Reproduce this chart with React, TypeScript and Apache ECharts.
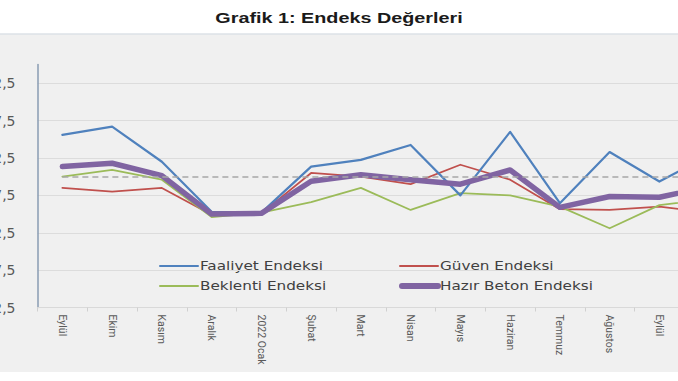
import React, { useEffect, useRef } from "react";
import * as echarts from "echarts";

const categories = ["Eylül", "Ekim", "Kasım", "Aralık", "2022 Ocak", "Şubat", "Mart", "Nisan", "Mayıs", "Haziran", "Temmuz", "Ağustos", "Eylül", "Ekim"];
const faaliyet = [105.6, 106.7, 102.0, 95.3, 95.2, 101.35, 102.25, 104.25, 97.5, 106.0, 96.45, 103.3, 99.35, 102.9];
const guven = [98.5, 98.0, 98.5, 94.9, 95.1, 100.5, 100.0, 99.0, 101.6, 99.6, 95.65, 95.55, 96.0, 95.2];
const beklenti = [100.0, 100.9, 99.6, 94.6, 95.2, 96.6, 98.5, 95.55, 97.8, 97.5, 96.0, 93.1, 96.2, 97.0];
const hazirBeton = [101.35, 101.8, 100.15, 95.0, 95.1, 99.4, 100.25, 99.6, 99.0, 100.9, 95.9, 97.35, 97.25, 98.7];
const seriesNames = ["Faaliyet Endeksi", "Güven Endeksi", "Beklenti Endeksi", "Hazır Beton Endeksi"];
const titleText = "Grafik 1: Endeks Değerleri";
const referenceValue = 100;
const yMin = 82.5;
const yMax = 115;
const yStep = 5;

const OFF = 70;
const W = 848;
const H = 381;

const COLORS = ["#4f81bd", "#c0504d", "#9bbb59", "#8064a2"];
const WIDTHS = [2.2, 1.8, 1.8, 5.5];
const LEG_POS = [
  [160, 266],
  [400, 266],
  [160, 286],
  [400, 286],
];

export default function App() {
  const ref = useRef<HTMLDivElement>(null);
  useEffect(() => {
    if (!ref.current) return;
    const chart = echarts.init(ref.current, null, { renderer: "svg" });
    const legendGraphics: any[] = [];
    seriesNames.forEach((name, i) => {
      const [lx, ly] = LEG_POS[i];
      legendGraphics.push({
        type: "line",
        shape: { x1: lx + OFF + (i === 3 ? 2 : 0), y1: ly, x2: lx + OFF + 38, y2: ly },
        style: { stroke: COLORS[i], lineWidth: i === 3 ? 6 : 2, lineCap: "round" },
        silent: true,
      });
      legendGraphics.push({
        type: "text",
        x: lx + OFF + 40,
        y: ly,
        scaleX: 1.27,
        style: {
          text: name,
          fill: "#404040",
          font: "12px 'DejaVu Sans', sans-serif",
          textAlign: "left",
          textVerticalAlign: "middle",
        },
        silent: true,
      });
    });
    const lineSeries = [faaliyet, guven, beklenti, hazirBeton].map((data, i) => ({
      type: "line",
      name: seriesNames[i],
      data,
      symbol: "none",
      z: i === 3 ? 4 : i === 0 ? 3 : 2,
      lineStyle: { color: COLORS[i], width: WIDTHS[i], cap: "round", join: "round" },
      itemStyle: { color: COLORS[i] },
    }));
    chart.setOption({
      animation: false,
      backgroundColor: "#ffffff",
      graphic: [
        { type: "rect", z: -10, shape: { x: 0, y: 34, width: W, height: 338 }, style: { fill: "#f0f0f0" }, silent: true },
        { type: "line", z: -9, shape: { x1: 0, y1: 34, x2: W, y2: 34 }, style: { stroke: "#dde2e7", lineWidth: 1.5 }, silent: true },
        {
          type: "text",
          x: 339 + OFF,
          y: 18,
          scaleX: 1.32,
          style: {
            text: titleText,
            fill: "#1a1a1a",
            font: "bold 15px 'Liberation Sans', Arial, sans-serif",
            textAlign: "center",
            textVerticalAlign: "middle",
          },
          silent: true,
        },
        ...legendGraphics,
      ],
      grid: {
        left: 37.5 + OFF,
        right: W - (37.5 + OFF + 14 * 49.75),
        top: 64.6,
        bottom: H - 307.5,
        containLabel: false,
      },
      xAxis: {
        type: "category",
        data: categories,
        boundaryGap: true,
        axisLine: { show: true, lineStyle: { color: "#d9d9d9", width: 1 } },
        axisTick: { show: true, length: 4, lineStyle: { color: "#d0d0d0" } },
        axisLabel: {
          rotate: -90,
          margin: 7,
          interval: 0,
          color: "#595959",
          fontFamily: "Roboto",
          fontSize: 10.5,
        },
      },
      yAxis: {
        type: "value",
        min: yMin,
        max: yMax,
        interval: yStep,
        axisLine: { show: true, lineStyle: { color: "#8a9db3", width: 1.5 } },
        axisTick: { show: false },
        axisLabel: {
          margin: 22,
          color: "#595959",
          fontFamily: "DejaVu Sans",
          fontSize: 14,
          showMaxLabel: false,
          formatter: (v: number) => v.toFixed(1).replace(".", ","),
        },
        splitLine: { show: true, showMaxLine: false, lineStyle: { color: "#dcdcdc", width: 1 } },
      },
      series: [
        {
          type: "line",
          name: "ref",
          data: [],
          silent: true,
          z: 1,
          markLine: {
            silent: true,
            symbol: "none",
            label: { show: false },
            lineStyle: { color: "#a6a6a6", type: [6, 4], width: 1.5 },
            data: [[{ coord: [0, referenceValue] }, { coord: [categories.length - 1, referenceValue] }]],
          },
        },
        ...lineSeries,
      ],
    });
    return () => chart.dispose();
  }, []);
  return (
    <div style={{ position: "fixed", left: 0, top: 0, width: 678, height: H, overflow: "hidden", background: "#fff" }}>
      <div ref={ref} style={{ position: "absolute", left: -OFF, top: 0, width: W, height: H }} />
    </div>
  );
}
